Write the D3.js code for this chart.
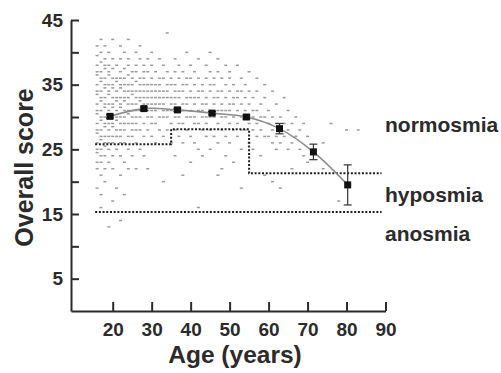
<!DOCTYPE html>
<html>
<head>
<meta charset="utf-8">
<script src="https://cdn.jsdelivr.net/npm/d3@7"></script>
<style>
  html, body { margin: 0; padding: 0; background: #fff; }
  svg { display: block; }
  text { font-family: "Liberation Sans", Arial, sans-serif; font-weight: bold; fill: #2b2b2b; }
</style>
</head>
<body>
<svg id="chart" width="501" height="373"></svg>
<script>
// Individual scores, grouped by age: [age, [scores...]]
const scatter = [
  [16, [41,39.5,38,37,36.5,35,34,33.5,32,31,30.5,29,28,27.5,26,25,24.5,23,22,19]],
  [17, [42,40,38.5,37,36,35.5,34,33,32.5,31,30,29.5,28,27,26.5,25,24,23,21,18,16]],
  [18, [41,39,38,37.5,36,35,34.5,33,32,31.5,30,29,28.5,27,26,25.5,24,22,20]],
  [19, [40,38,37,36.5,35,34,33.5,32,31,30.5,29,28,27,26,25,23,13]],
  [20, [42,39,37.5,36,35,34.5,33,32,31.5,30,29,28.5,27,26,24,22,17]],
  [21, [38,36,35.5,34,33,32.5,31,30,29.5,28,27,25,19]],
  [22, [41,39,37,36,35,34.5,33,32,31.5,30,29,28,27,26,24,21,14]],
  [23, [40,37.5,36,35,34,33,32.5,31,30,29,28,26,23,18]],
  [24, [42,39,38,36.5,35,34,33,32,31,30.5,29,27,25,22]],
  [25, [37,36,35,34,33.5,32,31,30,29,28,27,24]],
  [26, [40,38,37,35.5,34,33,32,31,30,29,28,26,22]],
  [27, [41,39,36,35,34,33,32.5,31,30,28,25]],
  [28, [38,37,36,35,34,33,32,31,29,27,24]],
  [29, [39,37,35,34,33,32,31,30,28,22]],
  [30, [40,38,36,35,34,33,32,31,30,29,27]],
  [31, [37,35,34,33,32,31,29,26]],
  [32, [39,36,35,34,33,32,30,28]],
  [33, [38,36,34,33,32,31,30,27,20]],
  [34, [43,37,35,34,33,31,30,28]],
  [35, [36,35,33,32,31,29,26]],
  [36, [39,37,35,34,33,32,30,28,24]],
  [37, [38,36,34,33,31,30,29,27]],
  [38, [37,35,34,32,31,29,26,21]],
  [39, [40,36,35,33,32,30,28]],
  [40, [38,36,34,33,31,30,27,23]],
  [41, [37,35,33,32,30,29,26]],
  [42, [39,36,34,33,31,29,25,16]],
  [43, [35,34,32,31,30,28,24]],
  [44, [38,36,33,32,30,29,27]],
  [45, [40,37,35,34,31,30,28,25]],
  [46, [36,35,33,32,30,27]],
  [47, [39,37,34,33,31,29,26,21]],
  [48, [36,34,32,31,30,28,22]],
  [49, [38,35,33,31,30,27,24]],
  [50, [37,36,34,32,31,29,26]],
  [51, [35,33,32,30,28,23]],
  [52, [38,34,33,31,29,27]],
  [53, [36,34,32,30,28,25,19]],
  [54, [35,33,31,30,28]],
  [55, [37,34,32,30,29,26]],
  [56, [33,31,30,28,25]],
  [57, [36,34,31,29,27]],
  [58, [32,30,28,24]],
  [59, [35,33,30,27,21]],
  [60, [31,29,27]],
  [61, [34,30,28,26,20]],
  [62, [32,29,27,25]],
  [63, [30,28,26,19]],
  [64, [33,29,27]],
  [65, [31,28,25]],
  [66, [29,26,22]],
  [67, [30,27]],
  [68, [28,25]],
  [69, [29,24]],
  [70, [27,23]],
  [72, [25]],
  [74, [26,22]],
  [76, [29]],
  [78, [17]],
  [80, [28]],
  [83, [28]]
];

// Group means with error bars
const meanAges   = [19.3, 28.0, 36.6, 45.5, 54.3, 62.8, 71.5, 80.3];
const meanScores = [30.1, 31.3, 31.1, 30.6, 30.0, 28.2, 24.6, 19.5];
const meanErrors = [0.25, 0.25, 0.25, 0.25, 0.3, 0.8, 1.2, 3.1];

// Cut-off lines (age breakpoints and score levels)
const normBreaks = [15.5, 35, 55, 89];
const normLevels = [25.8, 28.1, 21.3];
const anosmiaLevel = 15.3;
const anosmiaRange = [15.5, 89];

// Axis ticks and labels
const xTicks = [20, 30, 40, 50, 60, 70, 80, 90];
const yTicks = [5, 10, 15, 20, 25, 30, 35, 40, 45];
const yLabelled = [5, 15, 25, 35, 45];
const zoneLabels = ["normosmia", "hyposmia", "anosmia"];
const zoneScores = [27.7, 16.8, 10.9];

const svg = d3.select("#chart");
const x = d3.scaleLinear().domain([9.3, 90]).range([71, 385.5]);
const y = d3.scaleLinear().domain([0, 45]).range([311, 20]);

// scatter of individual results
const pts = scatter.flatMap(([a, ss]) => ss.map(s => [a, s]));
svg.append("g").selectAll("rect").data(pts).join("rect")
  .attr("x", d => x(d[0]) - 1.5)
  .attr("y", d => y(d[1]) - 0.75)
  .attr("width", 3)
  .attr("height", 1.5)
  .attr("fill", "#8a8a8a")
  .attr("opacity", 0.85);

// dotted cut-off lines
const dotted = { stroke: "#1e1e1e", width: 2, dash: "2,1.7" };
const stepPts = [];
normLevels.forEach((lv, i) => {
  stepPts.push([normBreaks[i], lv]);
  stepPts.push([normBreaks[i + 1], lv]);
});
svg.append("path")
  .attr("d", d3.line().x(d => x(d[0])).y(d => y(d[1]))(stepPts))
  .attr("fill", "none").attr("stroke", dotted.stroke)
  .attr("stroke-width", dotted.width).attr("stroke-dasharray", dotted.dash);
svg.append("line")
  .attr("x1", x(anosmiaRange[0])).attr("x2", x(anosmiaRange[1]))
  .attr("y1", y(anosmiaLevel)).attr("y2", y(anosmiaLevel))
  .attr("stroke", dotted.stroke).attr("stroke-width", dotted.width)
  .attr("stroke-dasharray", dotted.dash);

// trend curve through the group means
const means = meanAges.map((a, i) => ({ a, s: meanScores[i], e: meanErrors[i] }));
svg.append("path")
  .attr("d", d3.line().x(d => x(d.a)).y(d => y(d.s)).curve(d3.curveCatmullRom)(means))
  .attr("fill", "none").attr("stroke", "#8c8c8c").attr("stroke-width", 1.6);

// error bars
const eb = svg.append("g").attr("stroke", "#333").attr("stroke-width", 1.2);
means.forEach(d => {
  eb.append("line").attr("x1", x(d.a)).attr("x2", x(d.a))
    .attr("y1", y(d.s - d.e)).attr("y2", y(d.s + d.e));
  [d.s - d.e, d.s + d.e].forEach(v => {
    eb.append("line").attr("x1", x(d.a) - 4).attr("x2", x(d.a) + 4)
      .attr("y1", y(v)).attr("y2", y(v));
  });
});

// mean markers
svg.append("g").selectAll("rect").data(means).join("rect")
  .attr("x", d => x(d.a) - 3.5).attr("y", d => y(d.s) - 3.5)
  .attr("width", 7).attr("height", 7).attr("fill", "#111");

// axes
const yAxis = d3.axisLeft(y).tickValues(yTicks)
  .tickSizeInner(-8).tickSizeOuter(0).tickPadding(8)
  .tickFormat(v => yLabelled.includes(v) ? v : "");
const xAxis = d3.axisBottom(x).tickValues(xTicks)
  .tickSizeInner(-9).tickSizeOuter(0).tickPadding(12);

const gy = svg.append("g").attr("transform", `translate(${x(9.3)},0)`).call(yAxis);
const gx = svg.append("g").attr("transform", `translate(0,${y(0)})`).call(xAxis);
[gx, gy].forEach(g => {
  g.selectAll("path, line").attr("stroke", "#2b2b2b").attr("stroke-width", 2);
  g.selectAll("text").attr("font-size", 19).attr("font-family", null).attr("fill", "#2b2b2b");
});

// axis titles
svg.append("text").attr("x", 235).attr("y", 363).attr("text-anchor", "middle")
  .attr("font-size", 24.5).text("Age (years)");
svg.append("text").attr("transform", `translate(33,${y(22.2)}) rotate(-90)`)
  .attr("text-anchor", "middle").attr("font-size", 25).text("Overall score");

// zone labels
svg.append("g").selectAll("text").data(zoneLabels).join("text")
  .attr("x", 385).attr("y", (d, i) => y(zoneScores[i]))
  .attr("font-size", 21).text(d => d);
</script>
</body>
</html>
